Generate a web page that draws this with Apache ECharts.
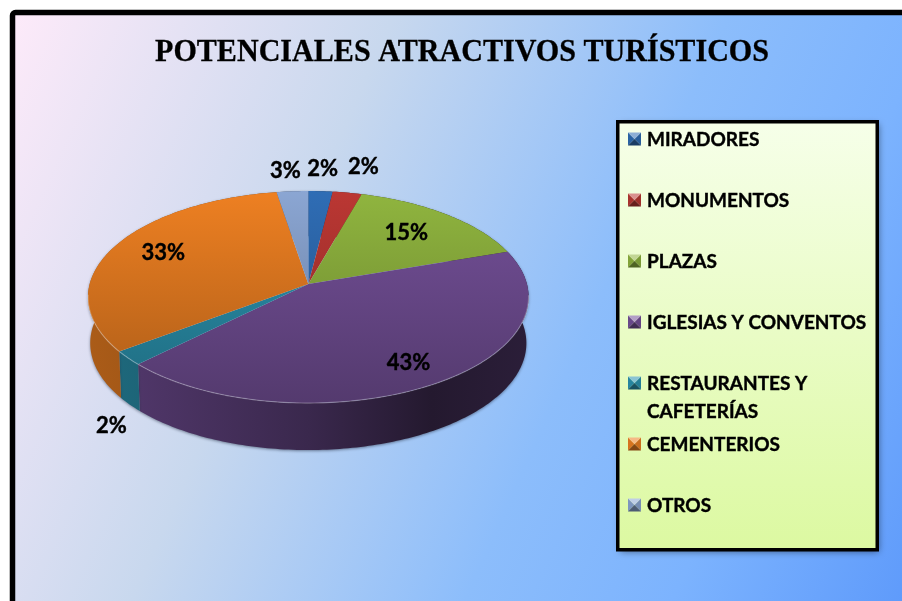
<!DOCTYPE html>
<html><head><meta charset="utf-8">
<style>html,body{margin:0;padding:0;background:#fff}#c{width:902px;height:601px}</style>
<script src="https://cdn.jsdelivr.net/npm/echarts@6/dist/echarts.min.js"></script>
</head><body><div id="c"></div>
<script>
var titleText = 'POTENCIALES ATRACTIVOS TURÍSTICOS';
var categories = ['MIRADORES','MONUMENTOS','PLAZAS','IGLESIAS Y CONVENTOS','RESTAURANTES Y\nCAFETERÍAS','CEMENTERIOS','OTROS'];
var values = [2.0, 2.4, 15.4, 42.8, 2.2, 32.6, 2.6];
var colors = ['#2f6db5','#bb3733','#90b53f','#745099','#2b94b1','#ee8022','#8ba6d3'];
// label placement: fraction of the radius along the slice's middle angle, plus a small nudge
var labelRadius = [1.3,1.33,0.69,0.8,1.1,0.74,1.3];
var labelNudge = [[-1,2],[5,0],[0,-2],[0,1],[3,60],[0,-3],[-3,4]];

var CX=308.3, CY=284, RX=218.6, RY=104.4, K=0.123, DEPTH=46;
var total = values.reduce(function(a,b){return a+b;},0);
var starts = []; values.reduce(function(s,v,i){starts[i]=s; return s+v;},0);

function shade(hex,f){
  var n=parseInt(hex.slice(1),16), c=[n>>16,(n>>8)&255,n&255];
  return 'rgb('+c.map(function(x){return Math.round(f>=1? x+(255-x)*(f-1):x*f);}).join(',')+')';
}
function proj(deg,f){
  var t=deg*Math.PI/180, u=Math.sin(t)*f, v=Math.cos(t)*f, d=1+K*v;
  return [CX+RX*u/d, CY-RY*v/d];
}
function arc(a0,a1){
  var n=Math.max(2,Math.ceil(Math.abs(a1-a0))), p=[];
  for(var i=0;i<=n;i++) p.push(a0+(a1-a0)*i/n);
  return p;
}
function lower(p,deg){
  var v=Math.cos(deg*Math.PI/180);
  return [CX+(p[0]-CX)*0.99, p[1]+DEPTH-v*1];
}
function angles(i,val){
  var a0=starts[i]/total*360; return [a0,a0+val/total*360];
}
var G = echarts.graphic.LinearGradient;

function renderWall(params,api){
  var i=params.dataIndex, a=angles(i,api.value(0)), base=colors[i];
  var deg=arc(a[0],a[1]);
  var up=deg.map(function(d){return proj(d,1);});
  var lo=deg.map(function(d,j){return lower(up[j],d);}).reverse();
  return {type:'polygon',shape:{points:up.concat(lo)},style:{
    fill:new G(87,0,529,0,[
      {offset:0,color:shade(base,0.72)},{offset:0.12,color:shade(base,0.68)},
      {offset:0.5,color:shade(base,0.5)},{offset:0.78,color:shade(base,0.31)},
      {offset:1,color:shade(base,0.37)}],true),
    shadowBlur:3,shadowColor:'rgba(40,50,70,0.55)',shadowOffsetY:1}};
}
function renderTop(params,api){
  var i=params.dataIndex, a=angles(i,api.value(0)), base=colors[i];
  var rim=arc(a[0],a[1]).map(function(d){return proj(d,1);});
  var kids=[{type:'polygon',shape:{points:[[CX,CY]].concat(rim)},style:{
    fill:new G(0,191,0,403,[
      {offset:0,color:shade(base,1.0)},{offset:1,color:shade(base,0.72)}],true)}}];
  var front=arc(a[0],a[1]).filter(function(d){return Math.cos(d*Math.PI/180)<-0.1;}).map(function(d){return proj(d,1);});
  if(front.length>1) kids.push({type:'polyline',shape:{points:front},
    style:{fill:null,stroke:'rgba(255,255,255,0.28)',lineWidth:1.2}});
  return {type:'group',children:kids};
}
function renderLabel(params,api){
  var i=params.dataIndex, val=api.value(0), a=angles(i,val);
  var p=proj((a[0]+a[1])/2,labelRadius[i]);
  return {type:'text',style:{x:p[0]+labelNudge[i][0],y:p[1]+labelNudge[i][1],
    text:Math.round(val/total*100)+'%',
    font:'bold 22px Lato',fill:'#000',stroke:'#000',lineWidth:0.4,align:'center',verticalAlign:'middle'}};
}

var graphic=[
  {type:'rect',z:-6,shape:{x:12.5,y:12.5,width:1000,height:1000,r:3},
    style:{stroke:'#000',lineWidth:5.5,fill:new G(15,15,972,445,[
      {offset:0,color:'#fdeaf9'},{offset:0.33,color:'#c8d8ee'},{offset:0.62,color:'#8cbdfb'},
      {offset:0.8,color:'#7cb3fe'},{offset:1,color:'#5f9bfb'}],true)}},
  {type:'rect',z:-5,shape:{x:617.75,y:121.75,width:259.5,height:428},
    style:{fill:'#000',shadowBlur:7,shadowOffsetX:2,shadowOffsetY:2,shadowColor:'rgba(0,0,0,0.5)'}},
  {type:'rect',z:-4,shape:{x:617.75,y:121.75,width:259.5,height:428},
    style:{stroke:'#000',lineWidth:3.5,
      fill:new G(0,122,0,550,[{offset:0,color:'#f6ffe9'},{offset:1,color:'#dcf9a1'}],true)}},
  {type:'text',z:-3,x:462,y:53,scaleX:0.94,style:{x:0,y:0,text:titleText,font:'bold 32px "Liberation Serif"',fill:'#000',stroke:'#000',lineWidth:0.3,align:'center',verticalAlign:'middle'}}
];
categories.forEach(function(name,i){
  var y=139+61*i, x0=628, x1=641, y0=y-6.5, y1=y+6.5, mx=(x0+x1)/2;
  var c=colors[i];
  [[[x0,y0],[x0,y1],[mx,y],shade(c,0.9)],
   [[x1,y0],[x1,y1],[mx,y],shade(c,0.85)],
   [[x0,y1],[x1,y1],[mx,y],shade(c,0.55)],
   [[x0,y0],[x1,y0],[mx,y],shade(c,1.45)]].forEach(function(t){
    graphic.push({type:'polygon',z:-3,shape:{points:[t[0],t[1],t[2]]},style:{fill:t[3]}});
  });
  name.split('\n').forEach(function(line,j){
    graphic.push({type:'text',z:-3,style:{x:647,y:y+1+28*j,text:line,font:'bold 19px Lato',fill:'#000',stroke:'#000',lineWidth:0.4,verticalAlign:'middle'}});
  });
});

var chart=echarts.init(document.getElementById('c'),null,{renderer:'canvas',width:902,height:601});
chart.setOption({
  animation:false,
  graphic:graphic,
  series:[
    {type:'custom',name:'lateral',coordinateSystem:'none',z:2,silent:true,renderItem:renderWall,data:values},
    {type:'custom',name:'superficie',coordinateSystem:'none',z:3,silent:true,renderItem:renderTop,data:values},
    {type:'custom',name:'etiquetas',coordinateSystem:'none',z:4,silent:true,renderItem:renderLabel,data:values}
  ]
});
</script></body></html>
